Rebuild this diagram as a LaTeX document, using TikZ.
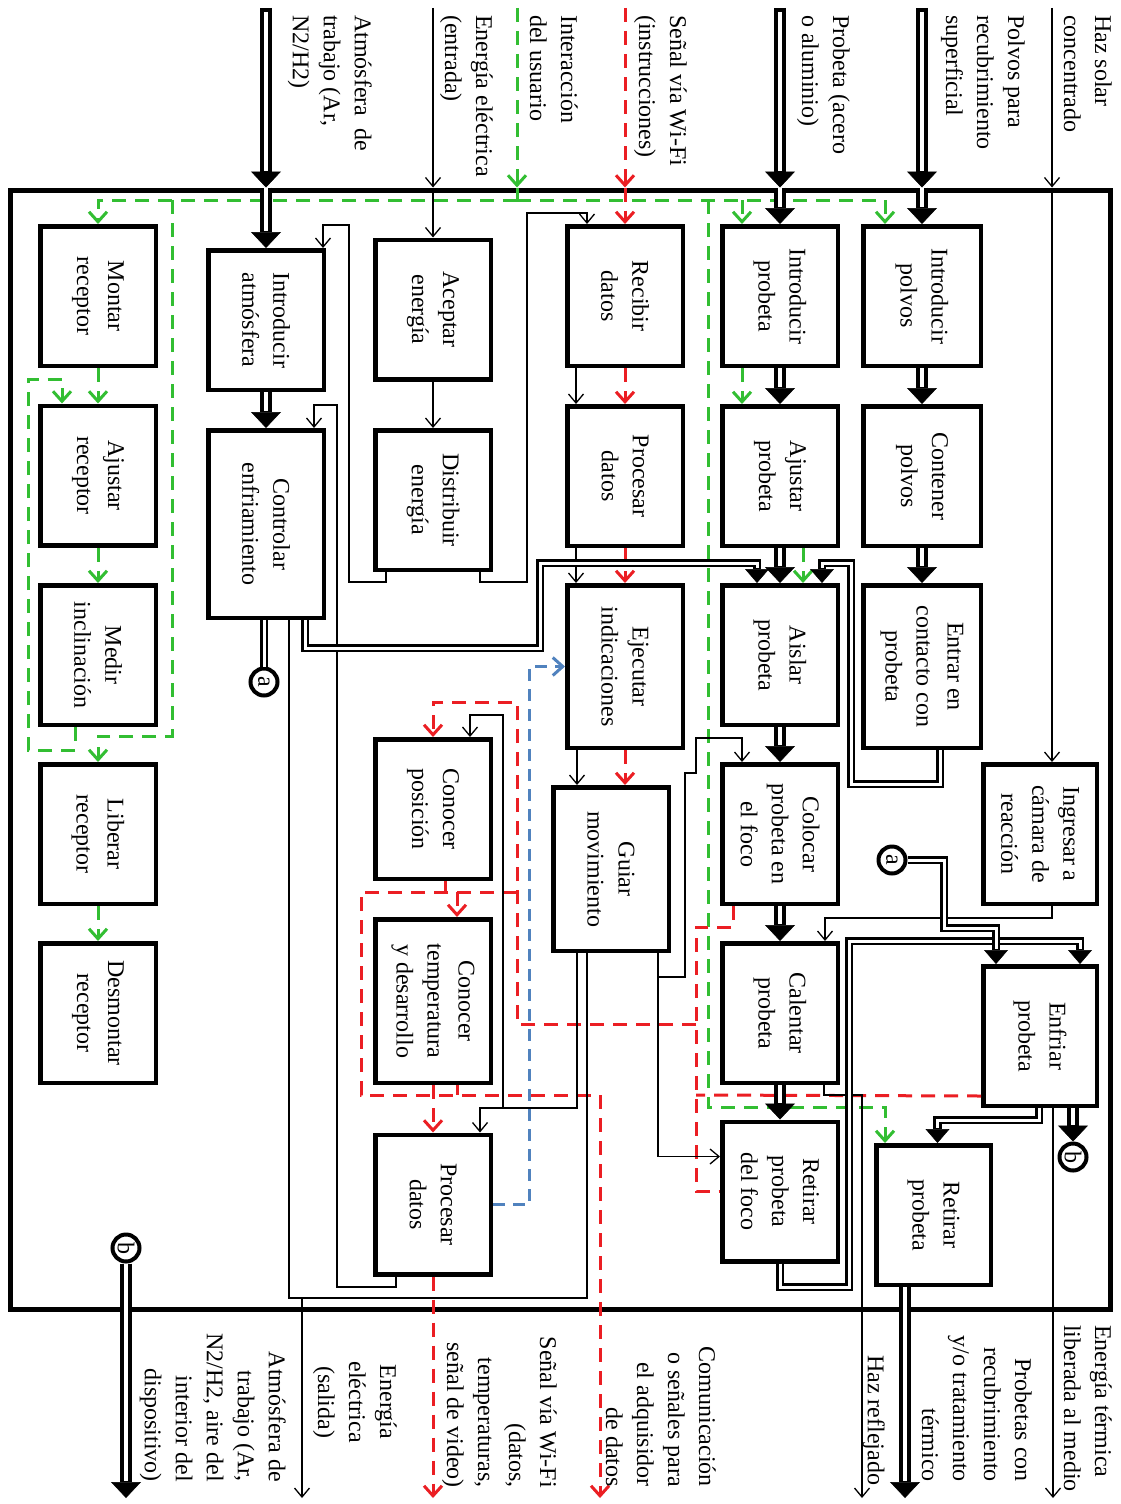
\documentclass[tikz,border=0pt]{standalone}
\usepackage{fontspec}
\setmainfont{Liberation Serif}
\usetikzlibrary{arrows.meta,calc}
\newcommand\lblfont{\fontsize{24pt}{31pt}\selectfont}
\definecolor{gcol}{RGB}{50,190,50}
\definecolor{rcol}{RGB}{235,30,35}
\definecolor{bcol}{RGB}{80,130,190}
\tikzset{
 box/.style={draw, line width=4.5pt, fill=white, minimum width=115.5pt, minimum height=139.5pt, inner sep=0pt},
 lbl/.style={rotate=-90, align=center, font=\lblfont, inner sep=0pt},
 extl/.style={rotate=-90, font=\lblfont, inner sep=0pt},
 frame/.style={draw, line width=5pt, minimum width=1100pt, minimum height=1119pt, inner sep=0pt},
 circ/.style={circle, draw, line width=4pt, fill=white, minimum size=27pt, inner sep=0pt},
 thinl/.style={line width=1.3pt},
 tarr/.style={line width=1.3pt, -{Straight Barb[length=9pt,width=15pt,line width=1.3pt]}},
 matA/.style={line width=12.5pt, line join=miter, -{Triangle[length=16pt,width=30pt,line width=0.5pt]}, postaction={draw=white, line width=4.5pt, arrows=-, shorten >=17pt}},
 matAc/.style={line width=12.5pt, line join=miter, -{Triangle[length=16pt,width=30pt,line width=0.5pt]}, postaction={draw=white, line width=4.5pt, arrows=-, shorten >=17pt, shorten <=4pt}},
 matB/.style={line width=8.5pt, line join=miter, -{Triangle[length=14pt,width=24pt,line width=0.5pt]}, postaction={draw=white, line width=3pt, arrows=-, shorten >=15pt}},
 matBn/.style={line width=8.5pt, line join=miter, postaction={draw=white, line width=3pt}},
 gd/.style={draw=gcol, line width=3pt, dash pattern=on 14pt off 9pt},
 garr/.style={gd, -{Straight Barb[length=10pt,width=18pt,line width=3pt]}},
 rd/.style={draw=rcol, line width=3pt, dash pattern=on 14pt off 9pt},
 rarr/.style={rd, -{Straight Barb[length=10pt,width=18pt,line width=3pt]}},
 bd/.style={draw=bcol, line width=3pt, dash pattern=on 12pt off 8pt},
 barr/.style={bd, -{Straight Barb[length=10pt,width=18pt,line width=3pt]}},
}
\begin{document}
\begin{tikzpicture}[x=1pt,y=-1pt]
\useasboundingbox (0,0) rectangle (1121,1504);
\fill[white] (0,0) rectangle (1121,1504);
\node[frame] (frm) at (560,749.5) {};

% boxes
\node[box, label={[lbl]center:Montar\\receptor}] (mon) at (98,296) {};
\node[box, label={[lbl]center:Ajustar\\receptor}] (ajr) at (98,475.5) {};
\node[box, label={[lbl]center:Medir\\inclinación}] (med) at (98,655) {};
\node[box, label={[lbl]center:Liberar\\receptor}] (lib) at (98,834) {};
\node[box, label={[lbl]center:Desmontar\\receptor}] (des) at (98,1013) {};
\node[box, label={[lbl]center:Introducir\\atmósfera}] (iat) at (266,320) {};
\node[box, minimum height=187.5pt, label={[lbl]center:Controlar\\enfriamiento}] (ctl) at (266,524) {};
\node[box, label={[lbl]center:Aceptar\\energía}] (ace) at (433,309.5) {};
\node[box, label={[lbl]center:Distribuir\\energía}] (dis) at (433,500) {};
\node[box, label={[lbl]center:Conocer\\posición}] (cpo) at (433,809) {};
\node[box, minimum height=163.5pt, label={[lbl]center:Conocer\\temperatura\\y desarrollo}] (cte) at (433,1001) {};
\node[box, label={[lbl]center:Procesar\\datos}] (pdc) at (433,1204.5) {};
\node[box, label={[lbl]center:Recibir\\datos}] (rec) at (625,296) {};
\node[box, label={[lbl]center:Procesar\\datos}] (pdd) at (625,476) {};
\node[box, minimum height=162.5pt, label={[lbl]center:Ejecutar\\indicaciones}] (eje) at (625,666.5) {};
\node[box, minimum height=163.5pt, label={[lbl]center:Guiar\\movimiento}] (gui) at (611,869) {};
\node[box, label={[lbl]center:Introducir\\probeta}] (ipr) at (780,296) {};
\node[box, label={[lbl]center:Ajustar\\probeta}] (apr) at (780,476) {};
\node[box, label={[lbl]center:Aislar\\probeta}] (ais) at (780,655) {};
\node[box, label={[lbl]center:Colocar\\probeta en\\el foco}] (col) at (780,834) {};
\node[box, label={[lbl]center:Calentar\\probeta}] (cal) at (780,1013) {};
\node[box, label={[lbl]center:Retirar\\probeta\\del foco}] (rfo) at (780,1191.5) {};
\node[box, minimum width=117.5pt, label={[lbl]center:Introducir\\polvos}] (ipo) at (922,296) {};
\node[box, minimum width=117.5pt, label={[lbl]center:Contener\\polvos}] (con) at (922,476) {};
\node[box, minimum width=117.5pt, minimum height=162.5pt, label={[lbl]center:Entrar en\\contacto con\\probeta}] (ent) at (922,666.5) {};
\node[box, minimum width=113.5pt, label={[lbl]center:Ingresar a\\cámara de\\reacción}] (ing) at (1040,834) {};
\node[box, minimum width=113.5pt, label={[lbl]center:Enfriar\\probeta}] (enf) at (1040,1036) {};
\node[box, minimum width=114.5pt, label={[lbl]center:Retirar\\probeta}] (rpr) at (933.5,1215) {};

% connector circles
\node[circ, label={[lbl]center:a}] (ca1) at (264,682) {};
\node[circ, label={[lbl]center:a}] (ca2) at (892,860) {};
\node[circ, label={[lbl]center:b}] (cb1) at (1073,1157) {};
\node[circ, label={[lbl]center:b}] (cb2) at (126,1248) {};

% free ends
\coordinate (inAtm) at (266,8);
\coordinate (inEn) at (433,8);
\coordinate (inUs) at (517,8);
\coordinate (inWifi) at (625,8);
\coordinate (inProb) at (780,8);
\coordinate (inPol) at (922,8);
\coordinate (inHaz) at (1052,8);
\coordinate (outAtm) at (126,1498);
\coordinate (outEl) at (302,1498);
\coordinate (outWifi) at (433,1498);
\coordinate (outCom) at (600,1498);
\coordinate (outRef) at (862,1498);
\coordinate (outProb) at (905,1498);
\coordinate (outTerm) at (1053,1498);

% ---- green (user) ----
\draw[garr] (inUs) -- (inUs |- frm.north);
\draw[gd] (inUs |- frm.north) -- (517,200);
\draw[garr] (517,200) -| (mon.north);
\draw[garr] (517,200) -| ($(ipo.north west)+(24,0)$);
\draw[garr] (742,200) -- ($(ipr.north west)+(22,0)$);
\draw[garr] (172,200) |- ($(lib.north)+(0,-26)$) -- (lib.north);
\draw[garr] (708,200) |- ($(rpr.north west)+(11,-36)$) -- ($(rpr.north west)+(11,0)$);
\draw[garr] (mon.south) -- (ajr.north);
\draw[garr] (ajr.south) -- (med.north);
\draw[garr] (lib.south) -- (des.north);
\draw[garr] ($(med.south west)+(37,0)$) |- (28,750) |- ($(ajr.north west)+(24,-24)$) -- ($(ajr.north west)+(24,0)$);
\draw[garr] ($(ipr.south west)+(22,0)$) -- ($(apr.north west)+(22,0)$);
\draw[garr] ($(apr.south west)+(83,0)$) -- ($(ais.north west)+(83,0)$);

% ---- red (signals) ----
\draw[rarr] (inWifi) -- (inWifi |- frm.north);
\draw[rarr] (inWifi |- frm.north) -- (rec.north);
\draw[rarr] (rec.south) -- (pdd.north);
\draw[rarr] (pdd.south) -- (eje.north);
\draw[rarr] (eje.south) -- ($(gui.north)+(14,0)$);
\draw[rarr] (696,1024) -| (517,702) -| (cpo.north);
\draw[rd] (517,892) -- (361,892) -- (361,1095) -- (600,1095);
\draw[rarr] (600,1095) -- (outCom);
\draw[rd] ($(cpo.south)+(12,0)$) -- (445,892);
\draw[rarr] (457,892) -- ($(cte.north)+(24,0)$);
\draw[rarr] (cte.south) -- (pdc.north);
\draw[rd] ($(cte.south)+(24,0)$) -- (457,1095);
\draw[rarr] (pdc.south) -- (outWifi);
\draw[rd] ($(col.south west)+(13,0)$) |- (696,927) |- (rfo.west);
\draw[rd] ($(enf.south west)+(0,-12)$) -- (696,1095);

% ---- blue ----
\draw[barr] (pdc.east) -| ($(eje.west)+(-36,0)$) -- (eje.west);

% ---- thin black (energy / beam) ----
\draw[tarr] (inEn) -- (inEn |- frm.north);
\draw[tarr] (inEn |- frm.north) -- (ace.north);
\draw[tarr] (ace.south) -- (dis.north);
\draw[tarr] ($(dis.south west)+(13,0)$) |- (349,582) -- (349,225) -| ($(iat.north east)+(-3,0)$);
\draw[tarr] ($(dis.south east)+(-13,0)$) |- (527,582) -- (527,213) -| ($(rec.north west)+(22,0)$);
\draw[tarr] ($(pdc.south west)+(23,0)$) |- (337,1287) -- (337,405) -| ($(ctl.north east)+(-12,0)$);
\draw[thinl] ($(ctl.south)+(23,0)$) |- (587,1298) -- ($(gui.south)+(-24,0)$);
\draw[tarr] (302,1298) -- (outEl);
\draw[tarr] ($(gui.south)+(-34,0)$) |- (480,1108) -- ($(pdc.north east)+(-13,0)$);
\draw[tarr] (503,1108) -- (503,715) -| ($(cpo.north east)+(-23,0)$);
\draw[tarr] ($(gui.south east)+(-13,0)$) |- ($(rfo.north west)+(0,37)$);
\draw[tarr] (658,977) -- (685,977) -- (685,773) -- (696,773) -- (696,738) -| ($(col.north west)+(22,0)$);
\draw[tarr] ($(rec.south west)+(11,0)$) -- ($(pdd.north west)+(11,0)$);
\draw[tarr] ($(pdd.south west)+(11,0)$) -- ($(eje.north west)+(11,0)$);
\draw[tarr] ($(eje.south west)+(12,0)$) -- ($(gui.north west)+(26,0)$);
\draw[tarr] (inHaz) -- (inHaz |- frm.north);
\draw[tarr] (inHaz |- frm.north) -- ($(ing.north)+(12,0)$);
\draw[tarr] ($(ing.south)+(12,0)$) |- (825,918) -- ($(cal.north east)+(-15,0)$);
\draw[tarr] ($(cal.south east)+(-16,0)$) |- (862,1095) -- (outRef);
\draw[tarr] ($(enf.south)+(13,0)$) -- (outTerm);

% ---- material (double) ----
\draw[matAc] (inAtm) -- (inAtm |- frm.north);
\draw[matA] (inAtm |- frm.north) -- (iat.north);
\draw[matA] (iat.south) -- (ctl.north);
\draw[matAc] (inProb) -- (inProb |- frm.north);
\draw[matA] (inProb |- frm.north) -- (ipr.north);
\draw[matA] (ipr.south) -- (apr.north);
\draw[matA] (apr.south) -- (ais.north);
\draw[matA] (ais.south) -- (col.north);
\draw[matA] (col.south) -- (cal.north);
\draw[matA] (cal.south) -- (rfo.north);
\draw[matAc] (inPol) -- (inPol |- frm.north);
\draw[matA] (inPol |- frm.north) -- (ipo.north);
\draw[matA] (ipo.south) -- (con.north);
\draw[matA] (con.south) -- (ent.north);
\draw[matA] ($(rpr.south west)+(31,0)$) -- (outProb);
\draw[matA] (cb2.south) -- (outAtm);
\draw[matA] ($(enf.south)+(33,0)$) -- (cb1.north);
\draw[matB] ($(ctl.south east)+(-21,0)$) |- (540,648) |- ($(ais.north west)+(37,-20)$) -- ($(ais.north west)+(37,0)$);
\draw[matB] ($(ent.south)+(18,0)$) |- (851,784) |- ($(ais.north east)+(-18,-20)$) -- ($(ais.north east)+(-18,0)$);
\draw[matB] (rfo.south) |- (849,1287) |- ($(enf.north east)+(-19,-23)$) -- ($(enf.north east)+(-19,0)$);
\draw[matB] (ca2.east) -| (944,928) -| ($(enf.north west)+(15,0)$);
\draw[matB] ($(enf.south)+(-1,0)$) |- ($(rpr.north)+(4,-23)$) -- ($(rpr.north)+(4,0)$);
\draw[matBn] ($(ctl.south)+(-2,0)$) -- (ca1.north);

% ---- input labels ----
\node[extl, align=left, anchor=north west] (tAtm) at (372,15) {Atmósfera\enspace de\\trabajo (Ar,\\N2/H2)};
\node[extl, align=left, anchor=north west] (tEn) at (493,15) {Energía eléctrica\\(entrada)};
\node[extl, align=left, anchor=north west] (tUs) at (578,15) {Interacción\\del usuario};
\node[extl, align=left, anchor=north west] (tWifi) at (687,15) {Señal vía Wi-Fi\\(instrucciones)};
\node[extl, align=left, anchor=north west] (tProb) at (850,15) {Probeta (acero\\o aluminio)};
\node[extl, align=left, anchor=north west] (tPol) at (1025,15) {Polvos para\\recubrimiento\\superficial};
\node[extl, align=left, anchor=north west] (tHaz) at (1112,15) {Haz solar\\concentrado};

% ---- output labels ----
\node[extl, align=right, anchor=north east] (oAtm) at (286,1482) {Atmósfera de\\trabajo (Ar,\\N2/H2, aire del\\interior del\\dispositivo)};
\node[extl, align=center, anchor=north] (oEl) at (397,1402) {Energía\\eléctrica\\(salida)};
\node[extl, align=right, anchor=north east] (oWifi) at (557,1488) {Señal vía Wi-Fi\\(datos,\\temperaturas,\\señal de video)};
\node[extl, align=right, anchor=north east] (oCom) at (716,1487) {Comunicación\\o señales para\\el adquisidor\\de datos};
\node[extl, align=left, anchor=north west] (oRef) at (885,1355) {Haz reflejado};
\node[extl, align=right, anchor=north east] (oProb) at (1032,1482) {Probetas con\\recubrimiento\\y/o tratamiento\\térmico};
\node[extl, align=left, anchor=north west] (oTerm) at (1112,1325) {Energía térmica\\liberada al medio};
\end{tikzpicture}
\end{document}
